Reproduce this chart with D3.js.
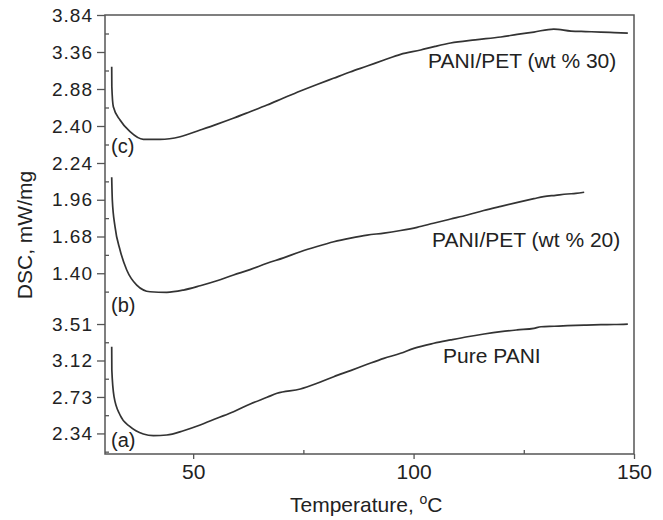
<!DOCTYPE html>
<html>
  <head>
    <meta charset="utf-8"/>
    <title>DSC curves</title>
    <script src="https://cdn.jsdelivr.net/npm/d3@7"></script>
    <style>
      body { margin: 0; background: #fff; }
      text { font-family: "Liberation Sans", Arial, sans-serif; fill: #222; }
      .axis path { display: none; }
      .axis line { stroke: #555; stroke-width: 1.3; }
    </style>
  </head>
  <body>
    <svg id="target"></svg>
  </body>
  <script>
    // temperatures (oC) and DSC readings (mW/mg) for each trace
    var tempA = [31.52, 31.55, 32.05, 33.41, 35.68, 38.7, 40.98, 44.02, 47.8, 51.59, 55.39, 59.16, 62.95, 66.75,
                 69.02, 74.32, 78.11, 81.89, 85.7, 89.48, 93.25, 97.05, 100.07, 104.6, 108.4, 112.2, 116.0, 119.8,
                 123.5, 127.3, 128.9, 131.9, 134.9, 138.7, 142.5, 145.5, 148.6];
    var dscA  = [3.267, 3.018, 2.733, 2.537, 2.412, 2.334, 2.316, 2.323, 2.369, 2.430, 2.502, 2.572, 2.655, 2.726,
                 2.769, 2.815, 2.876, 2.947, 3.012, 3.079, 3.143, 3.197, 3.250, 3.304, 3.340, 3.374, 3.403, 3.428,
                 3.447, 3.464, 3.481, 3.486, 3.492, 3.498, 3.503, 3.505, 3.510];

    var tempB = [31.52, 31.66, 32.27, 33.41, 34.93, 37.2, 40.23, 44.02, 47.8, 51.59, 55.4, 59.16, 62.9, 66.75,
                 70.5, 74.32, 78.1, 81.89, 85.7, 89.48, 93.3, 97.05, 100.8, 104.5, 108.4, 112.2, 115.9, 119.8,
                 123.6, 127.3, 129.5, 132.2, 134.9, 136.8, 138.7];
    var dscB  = [2.131, 1.958, 1.755, 1.577, 1.425, 1.310, 1.259, 1.255, 1.272, 1.305, 1.343, 1.387, 1.428, 1.476,
                 1.517, 1.564, 1.604, 1.640, 1.668, 1.691, 1.706, 1.726, 1.750, 1.781, 1.813, 1.844, 1.878, 1.910,
                 1.940, 1.968, 1.984, 1.994, 2.004, 2.008, 2.017];

    var tempC = [31.52, 31.55, 31.89, 33.41, 35.68, 38.7, 42.5, 47.05, 51.59, 55.3, 59.09, 62.9, 66.75, 70.5,
                 74.32, 78.1, 81.82, 85.6, 89.48, 93.3, 97.05, 101.6, 104.9, 108.4, 114.0, 119.8, 123.5, 127.3,
                 131.8, 135.7, 139.0, 142.5, 145.5, 148.6];
    var dscC  = [3.169, 2.910, 2.650, 2.478, 2.326, 2.227, 2.227, 2.261, 2.348, 2.421, 2.500, 2.585, 2.672, 2.763,
                 2.854, 2.939, 3.019, 3.100, 3.178, 3.256, 3.330, 3.386, 3.433, 3.477, 3.518, 3.555, 3.588, 3.619,
                 3.658, 3.632, 3.625, 3.619, 3.612, 3.606];

    // tick values per panel
    var xTicks = [50, 100, 150];
    var xMinor = [75, 125];
    var ticksA = [3.51, 3.12, 2.73, 2.34];
    var minorA = [3.315, 2.925, 2.535, 2.145];
    var ticksB = [2.24, 1.96, 1.68, 1.40];
    var minorB = [2.10, 1.82, 1.54, 1.26];
    var ticksC = [3.84, 3.36, 2.88, 2.40];
    var minorC = [3.60, 3.12, 2.64, 2.16];

    var labels = ["Pure PANI", "PANI/PET (wt % 20)", "PANI/PET (wt % 30)"];
    var tags = ["(a)", "(b)", "(c)"];

    var W = 663, H = 520;
    var x0 = 105, x1 = 634, y0 = 15, y1 = 454;
    var svg = d3.select("#target").attr("width", W).attr("height", H);

    var x = d3.scaleLinear().domain([30, 150]).range([x0, x1]);
    var yA = d3.scaleLinear().domain([2.12, 3.66]).range([y1, 310]);
    var yB = d3.scaleLinear().domain([1.12, 2.24]).range([310, 163]);
    var yC = d3.scaleLinear().domain([1.92, 3.84]).range([163, y0]);

    var panels = [
      { t: tempA, v: dscA, y: yA, ticks: ticksA, minor: minorA, label: labels[0], lx: 443, ly: 363, tag: tags[0], ty: 447 },
      { t: tempB, v: dscB, y: yB, ticks: ticksB, minor: minorB, label: labels[1], lx: 432, ly: 247, tag: tags[1], ty: 312 },
      { t: tempC, v: dscC, y: yC, ticks: ticksC, minor: minorC, label: labels[2], lx: 428, ly: 68, tag: tags[2], ty: 153 }
    ];

    // frame
    svg.append("rect")
      .attr("x", x0).attr("y", y0)
      .attr("width", x1 - x0).attr("height", y1 - y0)
      .attr("fill", "none").attr("stroke", "#555").attr("stroke-width", 1.5);

    panels.forEach(function(p) {
      var major = svg.append("g").attr("class", "axis")
        .attr("transform", "translate(" + x0 + ",0)")
        .call(d3.axisLeft(p.y).tickValues(p.ticks).tickSize(8).tickPadding(4).tickFormat(d3.format(".2f")));
      major.selectAll("text").style("font-size", "19px").style("letter-spacing", "1px");

      svg.append("g").attr("class", "axis")
        .attr("transform", "translate(" + x0 + ",0)")
        .call(d3.axisLeft(p.y).tickValues(p.minor).tickSize(-4).tickFormat(""));

      var pts = p.t.map(function(d, i) { return [d, p.v[i]]; });
      svg.append("path")
        .datum(pts)
        .attr("fill", "none")
        .attr("stroke", "#333")
        .attr("stroke-width", 1.7)
        .attr("d", d3.line().x(function(d) { return x(d[0]); }).y(function(d) { return p.y(d[1]); }).curve(d3.curveMonotoneX));

      svg.append("text").attr("x", p.lx).attr("y", p.ly).style("font-size", "21px").text(p.label);
      svg.append("text").attr("x", 111).attr("y", p.ty).style("font-size", "20px").text(p.tag);
    });

    var xAxis = svg.append("g").attr("class", "axis")
      .attr("transform", "translate(0," + y1 + ")")
      .call(d3.axisBottom(x).tickValues(xTicks).tickSize(5).tickPadding(5));
    xAxis.selectAll("text").style("font-size", "21px");

    svg.append("g").attr("class", "axis")
      .attr("transform", "translate(0," + y1 + ")")
      .call(d3.axisBottom(x).tickValues(xMinor).tickSize(-4).tickFormat(""));

    var xt = svg.append("text")
      .attr("x", 290).attr("y", 512)
      .style("font-size", "21px")
      .text("Temperature, ");
    xt.append("tspan").attr("dy", -8).style("font-size", "14px").text("o");
    xt.append("tspan").attr("dy", 8).text("C");

    svg.append("text")
      .attr("transform", "translate(32,235) rotate(-90)")
      .attr("text-anchor", "middle")
      .style("font-size", "21px")
      .text("DSC, mW/mg");
  </script>
</html>
